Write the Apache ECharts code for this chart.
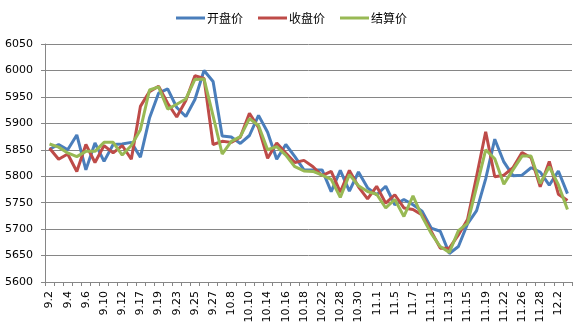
<!DOCTYPE html>
<html>
<head>
<meta charset="utf-8">
<script src="https://cdn.jsdelivr.net/npm/echarts@6/dist/echarts.min.js"></script>
<style>html,body{margin:0;padding:0;background:#fff;}#c{width:577px;height:329px;}</style>
</head>
<body>
<div id="c"></div>
<script>
var categories = ['9.2','9.3','9.4','9.5','9.6','9.9','9.10','9.11','9.12','9.16','9.17','9.18','9.19','9.20','9.23','9.24','9.25','9.26','9.27','9.30','10.8','10.9','10.10','10.11','10.14','10.15','10.16','10.17','10.18','10.21','10.22','10.25','10.28','10.29','10.30','10.31','11.1','11.4','11.5','11.6','11.7','11.8','11.11','11.12','11.13','11.14','11.15','11.18','11.19','11.21','11.22','11.25','11.26','11.27','11.28','11.29','12.2','12.3'];
var openPrice = [5851,5860,5850,5878,5812,5863,5828,5860,5861,5864,5836,5910,5957,5965,5930,5913,5945,6000,5979,5876,5874,5862,5877,5915,5883,5832,5860,5837,5812,5812,5812,5771,5811,5772,5808,5778,5765,5781,5746,5756,5746,5734,5702,5696,5654,5667,5710,5735,5795,5870,5827,5801,5802,5816,5808,5783,5810,5767];
var closePrice = [5853,5832,5842,5809,5860,5826,5858,5844,5858,5832,5932,5960,5970,5938,5912,5943,5990,5985,5860,5866,5864,5874,5919,5892,5834,5863,5844,5826,5830,5818,5801,5809,5770,5811,5780,5757,5781,5749,5765,5740,5737,5727,5696,5664,5664,5689,5718,5800,5884,5799,5802,5816,5845,5835,5780,5828,5766,5754];
var settlePrice = [5861,5855,5844,5837,5847,5847,5864,5864,5840,5858,5888,5963,5969,5927,5936,5946,5983,5984,5914,5842,5866,5875,5909,5896,5850,5856,5840,5818,5810,5809,5802,5794,5760,5803,5782,5771,5766,5740,5756,5724,5763,5724,5692,5667,5656,5697,5711,5780,5850,5833,5785,5812,5838,5838,5786,5818,5784,5737];
var seriesNames = ['开盘价','收盘价','结算价'];
var yMin = 5600, yMax = 6050, yStep = 50;

var chart = echarts.init(document.getElementById('c'), null, {renderer:'canvas'});
var gray = '#868686';
function mk(name, data, color){
  return {name:name, type:'line', data:data, symbol:'none', smooth:false,
    lineStyle:{color:color, width:3}, itemStyle:{color:color}, animation:false};
}
chart.setOption({
  animation:false,
  textStyle:{fontFamily:'DejaVu Sans'},
  legend:{
    top:7, left:171, itemGap:15, itemWidth:29, itemHeight:3, icon:'rect',
    textStyle:{fontFamily:'"Noto Sans CJK SC"', fontSize:12, color:'#000', padding:[0,0,0,-3]},
    data:seriesNames
  },
  grid:{left:45, right:5, top:44, bottom:47, containLabel:false},
  xAxis:{
    type:'category', data:categories, boundaryGap:true,
    axisLine:{lineStyle:{color:gray, width:1}},
    axisTick:{show:true, interval:0, length:4, lineStyle:{color:gray}},
    axisLabel:{interval:1, rotate:90, margin:9, fontSize:11, color:'#000', fontFamily:'DejaVu Sans'},
    splitLine:{show:false}
  },
  yAxis:{
    type:'value', min:yMin, max:yMax, interval:yStep,
    axisLine:{show:true, lineStyle:{color:gray, width:1}},
    axisTick:{show:true, length:4, lineStyle:{color:gray}},
    axisLabel:{margin:12, fontSize:11, color:'#000', fontFamily:'DejaVu Sans',
      formatter:function(v){return String(v);}},
    splitLine:{show:true, lineStyle:{color:gray, width:1}}
  },
  series:[
    mk(seriesNames[0], openPrice, '#4A7EBB'),
    mk(seriesNames[1], closePrice, '#BE4B48'),
    mk(seriesNames[2], settlePrice, '#98B954')
  ]
});
</script>
</body>
</html>
